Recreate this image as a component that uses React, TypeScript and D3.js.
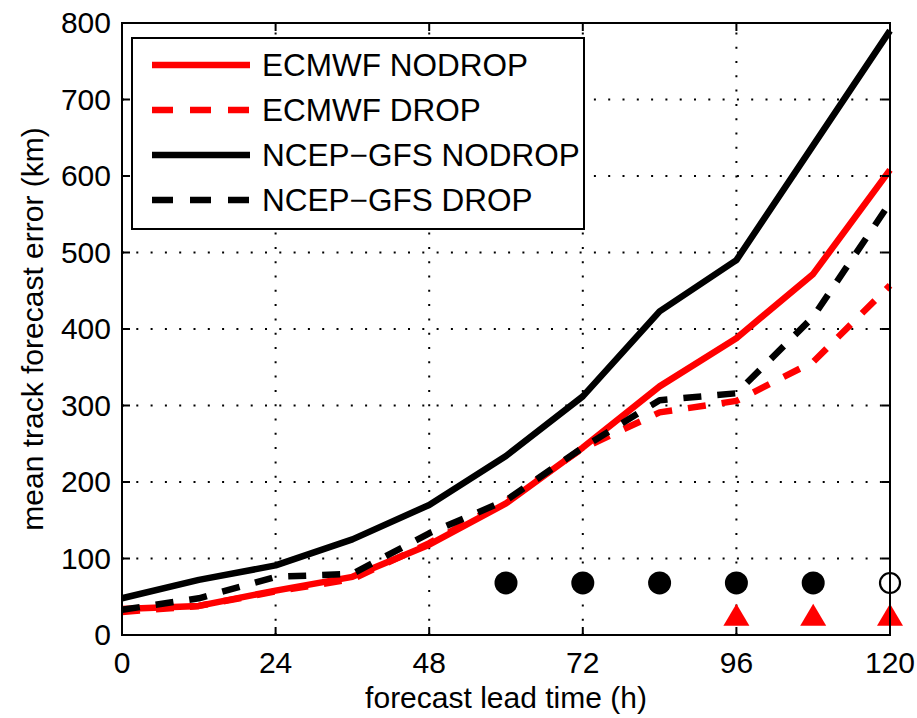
import React from "react";
import * as d3 from "d3";

const hours = [0, 12, 24, 36, 48, 60, 72, 84, 96, 108, 120];
const ecmwfNodrop = [34, 38, 58, 76, 118, 172, 245, 325, 388, 472, 608];
const ecmwfDrop = [30, 38, 57, 73, 120, 175, 244, 291, 306, 357, 457];
const gfsNodrop = [48, 72, 91, 125, 170, 234, 312, 423, 490, 640, 790];
const gfsDrop = [33, 48, 76, 80, 133, 176, 245, 307, 316, 416, 565];

const xTicks = [0, 24, 48, 72, 96, 120];
const yTicks = [0, 100, 200, 300, 400, 500, 600, 700, 800];

const circleHours = [60, 72, 84, 96, 108];
const circleValue = 68;
const openCircleHours = [120];
const triangleHours = [96, 108, 120];
const triangleValue = 24;

const seriesNames = ["ECMWF NODROP", "ECMWF DROP", "NCEP\u2212GFS NODROP", "NCEP\u2212GFS DROP"];
const seriesColors = ["#ff0000", "#ff0000", "#000000", "#000000"];
const seriesDashed = [false, true, false, true];
const seriesValues = [ecmwfNodrop, ecmwfDrop, gfsNodrop, gfsDrop];

const W = 917;
const H = 718;
const L = 122, R = 890, T = 23, B = 635;
const FONT = "'Liberation Sans', Arial, Helvetica, sans-serif";
const FS = 30;
const LFS = 31.5;

export default function App() {
  const x = d3.scaleLinear().domain([0, 120]).range([L, R]);
  const y = d3.scaleLinear().domain([0, 800]).range([B, T]);
  const line = d3
    .line<[number, number]>()
    .x((d) => x(d[0]))
    .y((d) => y(d[1]));

  const dash = "18,16";
  const lw = 6.5;

  const legend = { x: 132, y: 38, w: 452, h: 191 };
  const legendRows = [65, 110, 155, 200];

  return (
    <svg width={W} height={H} style={{ position: "absolute", left: 0, top: 0, background: "#fff" }}>
      <rect x={0} y={0} width={W} height={H} fill="#fff" />
      {/* grid */}
      {xTicks.map((t) => (
        <line key={"gx" + t} x1={x(t)} x2={x(t)} y1={B} y2={T} stroke="#000" strokeWidth={2} strokeDasharray="2,12.3" />
      ))}
      {yTicks.map((t) => (
        <line key={"gy" + t} x1={L} x2={R} y1={y(t)} y2={y(t)} stroke="#000" strokeWidth={2} strokeDasharray="2,12.3" />
      ))}
      {/* series */}
      {seriesValues.map((vals, i) => (
        <path
          key={"s" + i}
          d={line(hours.map((h, j) => [h, vals[j]] as [number, number])) || ""}
          fill="none"
          stroke={seriesColors[i]}
          strokeWidth={lw}
          strokeDasharray={seriesDashed[i] ? dash : undefined}
          strokeLinejoin="round"
          strokeLinecap="butt"
        />
      ))}
      {/* markers */}
      {circleHours.map((h) => (
        <circle key={"c" + h} cx={x(h)} cy={y(circleValue)} r={11.5} fill="#000" />
      ))}
      {openCircleHours.map((h) => (
        <circle key={"oc" + h} cx={x(h)} cy={y(circleValue)} r={10} fill="none" stroke="#000" strokeWidth={2.2} />
      ))}
      {triangleHours.map((h) => {
        const cx = x(h);
        const cy = y(triangleValue);
        return (
          <path key={"t" + h} d={`M${cx - 13},${cy + 9} L${cx + 13},${cy + 9} L${cx},${cy - 13} Z`} fill="#ff0000" />
        );
      })}
      {/* axes frame */}
      <rect x={L} y={T} width={R - L} height={B - T} fill="none" stroke="#000" strokeWidth={2} />
      {xTicks.map((t) => (
        <g key={"tx" + t}>
          <line x1={x(t)} x2={x(t)} y1={B} y2={B - 8} stroke="#000" strokeWidth={2} />
          <line x1={x(t)} x2={x(t)} y1={T} y2={T + 8} stroke="#000" strokeWidth={2} />
          <text x={x(t)} y={673} textAnchor="middle" fontFamily={FONT} fontSize={FS}>
            {t}
          </text>
        </g>
      ))}
      {yTicks.map((t) => (
        <g key={"ty" + t}>
          <line x1={L} x2={L + 8} y1={y(t)} y2={y(t)} stroke="#000" strokeWidth={2} />
          <line x1={R} x2={R - 8} y1={y(t)} y2={y(t)} stroke="#000" strokeWidth={2} />
          <text x={111} y={y(t) + 10} textAnchor="end" fontFamily={FONT} fontSize={FS}>
            {t}
          </text>
        </g>
      ))}
      <text x={(L + R) / 2} y={708} textAnchor="middle" fontFamily={FONT} fontSize={FS}>
        forecast lead time (h)
      </text>
      <text
        transform={`translate(43,${(T + B) / 2}) rotate(-90)`}
        textAnchor="middle"
        fontFamily={FONT}
        fontSize={FS}
      >
        mean track forecast error (km)
      </text>
      {/* legend */}
      <rect x={legend.x} y={legend.y} width={legend.w} height={legend.h} fill="#fff" stroke="#000" strokeWidth={2} />
      {seriesNames.map((name, i) => (
        <g key={"lg" + i}>
          <line
            x1={152}
            x2={250}
            y1={legendRows[i]}
            y2={legendRows[i]}
            stroke={seriesColors[i]}
            strokeWidth={lw}
            strokeDasharray={seriesDashed[i] ? "21,17" : undefined}
          />
          <text x={262} y={legendRows[i] + 11} fontFamily={FONT} fontSize={LFS}>
            {name}
          </text>
        </g>
      ))}
    </svg>
  );
}
